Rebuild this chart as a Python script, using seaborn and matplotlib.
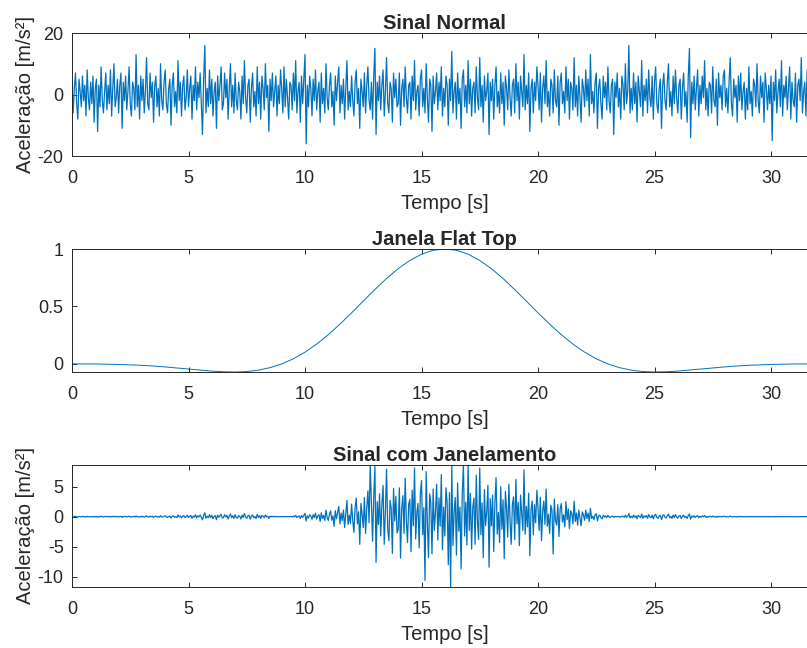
import numpy as np
import matplotlib
matplotlib.use("Agg")
import matplotlib.pyplot as plt
import seaborn as sns

# sinal bruto, 20 amostras por segundo (valores estimados da figura), uma linha por segundo
sinal_normal = [
    4, -6, 2, 7, -3, -8, 5, 1, -4, 6, -2, 3, -7, 8, -1, -5, 4, -3, 6, -9,
    2, 5, -12, 3, -4, 9, -2, -6, 1, 7, -5, 3, -3, 8, -7, 2, 10, -4, -1, 5,
    -6, 3, 7, -11, 4, -2, 6, -5, 1, 9, -3, -7, 4, 2, -5, 13, -4, 3, -8, 6,
    -2, 5, -6, 1, 12, -3, -5, 7, -1, 4, -9, 3, 6, -4, 2, -7, 10, -2, -5, 4,
    8, -3, -6, 2, 5, -10, 3, 7, -4, 1, -6, 11, -2, 4, -7, 3, 6, -5, -1, 8,
    -4, 2, 6, -8, 3, -2, 9, -5, 4, -1, 7, -3, -13, 5, 16, -6, 2, -4, 8, -3,
    5, -7, 1, 4, -11, 6, -2, 3, 9, -5, -3, 7, -1, 5, -8, 2, 10, -4, 3, -6,
    7, -2, -5, 4, 1, -8, 6, -3, 11, -1, -6, 3, 5, -9, 2, 7, -4, 1, -7, 9,
    -3, 4, -8, 6, 2, -5, 10, -1, 3, -12, 5, -2, 7, -4, 1, 6, -7, 3, -3, 8,
    2, -6, 9, -4, 5, -1, -8, 4, 3, -5, 7, -2, 11, -6, 1, 4, -9, 6, -3, 5,
    13, -16, 3, -4, 6, 2, -7, 5, -2, 8, -5, 1, 4, -9, 7, -3, 2, -6, 10, -1,
    -5, 3, 7, -4, 1, -10, 6, -2, 4, 9, -6, 3, -3, 5, -8, 2, 11, -5, 1, -4,
    6, -2, -7, 4, 8, -3, 2, -11, 5, 1, -4, 7, -6, 3, 9, -2, -5, 4, -8, 6,
    15, -13, 4, -2, 6, -5, 3, 8, -7, 1, 12, -3, -6, 4, 2, -9, 7, -1, 5, -4,
    -3, 7, -10, 2, 5, -4, 9, -1, -6, 3, 4, -8, 6, -2, 11, -5, 1, 3, -7, 5,
    8, -4, 2, -6, 10, -1, -9, 5, 3, -12, 6, -3, 1, 7, -5, 4, -2, 9, -7, 2,
    -4, 6, 3, -10, 5, -2, 14, -6, 1, 4, -8, 7, -3, 2, -11, 5, 8, -4, 3, -6,
    11, -3, 5, -7, 2, 4, -6, 9, -1, -5, 12, -4, 3, -9, 6, -2, 1, 7, -13, 4,
    -2, 5, -8, 3, 9, -4, 1, -6, 7, -3, 4, -10, 6, 2, -5, 8, -1, -7, 3, 5,
    -6, 10, -2, 4, -8, 6, 1, -4, 13, -5, 3, -3, 7, -12, 2, 5, -6, 4, -2, 9,
    3, -5, 7, -9, 2, 6, -3, 11, -4, 1, -7, 5, 3, -6, 8, -2, -4, 6, -10, 4,
    7, -3, 1, -6, 9, -2, 5, -8, 4, 2, -5, 12, -4, 3, -7, 6, -1, -9, 5, 2,
    -4, 8, -2, 5, -7, 13, -3, 1, -6, 4, 7, -11, 2, 5, -3, -8, 6, -1, 4, -5,
    9, -2, -6, 3, 5, -13, 4, -1, 7, -4, 2, -8, 6, 3, -5, 10, -3, 1, 16, -6,
    2, -5, 7, -3, 4, -9, 6, 1, -4, 11, -7, 3, -2, 5, -6, 8, -1, -4, 6, -8,
    4, 9, -3, -6, 2, 5, -11, 3, 7, -2, -5, 4, 10, -4, 1, -7, 6, -3, 8, -1,
    -6, 3, 5, -8, 2, 7, -4, 1, -9, 6, 15, -14, 4, -3, 6, -5, 2, 8, -7, 3,
    -3, 6, -1, 11, -5, 2, -7, 4, 3, -6, 9, -2, -4, 5, -10, 7, -1, 3, -5, 6,
    8, -4, 2, -6, 4, 12, -3, -7, 5, -1, 3, -9, 6, -2, 7, -5, 1, 4, -8, 2,
    -5, 9, -3, 1, -7, 5, 3, -4, 10, -2, -6, 6, -1, 4, -9, 7, 2, -5, 3, -3,
    6, -15, 4, -2, 8, -6, 1, 5, -4, 11, -7, 3, -1, 6, -5, 2, 9, -8, 4, -2,
    -4, 7, -9, 3, 5, -2, 12, -6, 1, 4, -7, 8, -3, 6, -11, 2, 5, -4, 10, -5,
]

# janela flat top, a cada 0.5 s
janela = [
    -0.000, -0.001, -0.001, -0.003, -0.005, -0.009, -0.013, -0.019, -0.027, -0.036, -0.045, -0.054, -0.063,
    -0.069, -0.071, -0.067, -0.055, -0.033, -0.001, 0.044, 0.102, 0.172, 0.254, 0.346, 0.444, 0.546, 0.647,
    0.743, 0.829, 0.900, 0.955, 0.989, 1.000, 0.989, 0.955, 0.900, 0.829, 0.743, 0.647, 0.546, 0.444,
    0.346, 0.254, 0.172, 0.102, 0.044, -0.001, -0.033, -0.055, -0.067, -0.071, -0.069, -0.063, -0.054,
    -0.045, -0.036, -0.027, -0.019, -0.013, -0.009, -0.005, -0.003, -0.001, -0.001, -0.000,
]

# sinal com janelamento, 20 amostras por segundo
sinal_janelado = [
    0.03, -0.05, 0.02, 0.06, -0.03, -0.07, 0.04, 0.01, -0.03, 0.05, -0.02, 0.02, -0.06, 0.07, -0.01, -0.04, 0.03, -0.03, 0.05, -0.08,
    0.02, 0.04, -0.1, 0.03, -0.03, 0.08, -0.02, -0.05, 0.01, 0.06, -0.04, 0.03, -0.03, 0.07, -0.06, 0.02, 0.09, -0.04, -0.01, 0.05,
    -0.06, 0.03, 0.07, -0.11, 0.04, -0.02, 0.06, -0.05, 0.01, 0.09, -0.03, -0.07, 0.04, 0.02, -0.05, 0.13, -0.04, 0.03, -0.08, 0.06,
    -0.03, 0.06, -0.08, 0.01, 0.16, -0.04, -0.07, 0.09, -0.01, 0.06, -0.13, 0.04, 0.09, -0.06, 0.03, -0.11, 0.16, -0.03, -0.08, 0.07,
    0.17, -0.06, -0.13, 0.04, 0.11, -0.24, 0.07, 0.17, -0.1, 0.02, -0.16, 0.3, -0.05, 0.11, -0.2, 0.09, 0.18, -0.15, -0.03, 0.25,
    -0.13, 0.07, 0.2, -0.28, 0.1, -0.07, 0.33, -0.19, 0.15, -0.04, 0.27, -0.12, -0.52, 0.2, 0.66, -0.25, 0.08, -0.17, 0.34, -0.13,
    0.22, -0.31, 0.04, 0.18, -0.5, 0.27, -0.09, 0.14, 0.41, -0.23, -0.14, 0.33, -0.05, 0.23, -0.37, 0.09, 0.47, -0.19, 0.14, -0.28,
    0.33, -0.09, -0.24, 0.19, 0.05, -0.38, 0.28, -0.14, 0.52, -0.05, -0.28, 0.14, 0.23, -0.42, 0.09, 0.32, -0.18, 0.04, -0.31, 0.39,
    -0.12, 0.16, -0.3, 0.21, 0.07, -0.16, 0.29, -0.03, 0.08, -0.28, 0.1, -0.03, 0.09, -0.04, 0.01, 0.04, -0.04, 0.01, -0.01, 0.02,
    0.01, -0.02, 0.03, -0.01, 0.01, -0.01, -0.02, 0.03, 0.04, -0.07, 0.11, -0.04, 0.22, -0.14, 0.03, 0.11, -0.28, 0.21, -0.11, 0.2,
    0.55, -0.72, 0.15, -0.2, 0.33, 0.12, -0.43, 0.33, -0.14, 0.58, -0.39, 0.08, 0.34, -0.78, 0.65, -0.29, 0.2, -0.63, 1.1, -0.12,
    -0.64, 0.4, 0.97, -0.58, 0.15, -1.6, 1.0, -0.35, 0.73, 1.7, -1.2, 0.62, -0.65, 1.1, -1.8, 0.47, 2.7, -1.3, 0.27, -1.1,
    2.1, -0.7, -2.6, 1.5, 3.1, -1.2, 0.8, -4.6, 2.2, 0.45, -1.8, 3.2, -2.8, 1.4, 4.3, -1.0, 8.6, 2.0, -4.1, 3.1,
    8.4, -7.6, 2.5, -1.3, 3.8, -3.2, 2.0, 5.2, -4.6, 0.7, 7.9, -2.0, -4.0, 2.7, 1.4, -6.1, 4.7, -0.7, 3.4, -2.7,
    -2.1, 4.8, -6.9, 1.4, 3.5, -2.8, 6.4, -0.7, -4.3, 2.1, 2.9, -5.8, 4.4, -1.5, 8.1, -3.7, 0.7, 2.2, -5.2, 3.7,
    6.0, -3.0, 1.5, -10.6, 7.5, -0.8, -6.8, 3.8, 2.3, -6.2, 4.6, -2.3, 0.8, 5.4, -3.9, 3.1, -1.6, 7.0, -5.5, 1.6,
    -3.2, 4.8, 2.4, -8.0, 4.0, -11.7, 8.4, -4.8, 0.8, 3.2, -6.4, 5.6, -2.4, 1.6, -8.7, 4.0, 8.6, -3.2, 2.4, -4.7,
    8.5, -2.3, 3.9, -5.4, 1.5, 3.1, -4.6, 6.9, -0.8, -3.8, 8.1, -3.0, 2.3, -6.8, 4.5, -1.5, 0.8, 5.2, -8.4, 3.0,
    -1.5, 3.6, -5.8, 2.2, 6.5, -2.9, 0.7, -4.3, 5.0, -2.1, 2.8, -7.0, 4.2, 1.4, -3.4, 5.4, -0.7, -4.6, 2.0, 3.3,
    -3.8, 6.2, -1.2, 2.4, -4.8, 3.6, 0.6, -2.3, 7.8, -2.9, 1.7, -1.7, 3.9, -6.5, 1.1, 2.6, -3.0, 2.0, -1.0, 4.4,
    1.4, -2.3, 3.2, -4.0, 0.9, 2.6, -1.3, 4.6, -1.6, 0.4, -2.8, 1.9, 1.1, -6.2, 2.9, -0.7, -1.4, 2.0, -3.3, 1.3,
    2.2, -0.9, 0.3, -1.7, 2.5, -0.5, 1.3, -2.0, 1.0, 0.5, -1.2, 2.6, -0.8, 0.6, -1.4, 1.1, -0.2, -1.5, 0.8, 0.3,
    -0.6, 1.1, -0.3, 0.6, -0.8, 1.4, -0.3, 0.1, -0.5, 0.3, 0.5, -0.7, 0.12, 0.27, -0.15, -0.36, 0.24, -0.04, 0.14, -0.15,
    0.25, -0.05, -0.12, 0.05, 0.06, -0.1, 0.02, -0.01, 0.03, -0.03, 0.03, -0.1, 0.1, 0.06, -0.12, 0.26, -0.09, 0.03, 0.52, -0.2,
    0.07, -0.18, 0.26, -0.11, 0.15, -0.34, 0.23, 0.04, -0.16, 0.43, -0.28, 0.12, -0.08, 0.2, -0.25, 0.34, -0.04, -0.17, 0.26, -0.35,
    0.18, 0.4, -0.13, -0.27, 0.09, 0.23, -0.5, 0.14, 0.32, -0.09, -0.23, 0.18, 0.45, -0.18, 0.04, -0.31, 0.27, -0.13, 0.35, -0.04,
    -0.25, 0.12, 0.2, -0.31, 0.08, 0.26, -0.14, 0.04, -0.3, 0.19, 0.46, -0.41, 0.11, -0.08, 0.16, -0.13, 0.05, 0.19, -0.16, 0.07,
    -0.06, 0.12, -0.02, 0.2, -0.09, 0.03, -0.12, 0.06, 0.04, -0.08, 0.12, -0.03, -0.05, 0.06, -0.11, 0.07, -0.01, 0.03, -0.05, 0.06,
    0.07, -0.03, 0.02, -0.05, 0.03, 0.09, -0.02, -0.05, 0.03, -0.01, 0.02, -0.06, 0.04, -0.01, 0.04, -0.03, 0.01, 0.02, -0.04, 0.01,
    -0.02, 0.04, -0.01, 0.01, -0.03, 0.02, 0.01, -0.02, 0.04, -0.01, -0.02, 0.02, -0.01, 0.01, -0.03, 0.02, 0.01, -0.02, 0.01, -0.01,
    0.02, -0.05, 0.01, -0.01, 0.02, -0.02, 0.01, 0.01, -0.01, 0.03, -0.02, 0.01, -0.01, 0.02, -0.01, 0.01, 0.02, -0.02, 0.01, -0.01,
    -0.01, 0.01, -0.02, 0.01, 0.01, -0.01, 0.02, -0.01, 0.01, 0.01, -0.01, 0.01, -0.01, 0.01, -0.02, 0.01, 0.01, -0.01, 0.02, -0.01,
]

t_sinal = np.arange(len(sinal_normal)) * 0.05
t_janela = np.arange(len(janela)) * 0.5

sns.set_theme(style="ticks")
plt.rcParams["font.family"] = ["Liberation Sans", "DejaVu Sans"]
cor_eixo = "#262626"
plt.rcParams.update({
    "axes.unicode_minus": False,
    "xtick.direction": "in", "ytick.direction": "in",
    "xtick.top": True, "ytick.right": True,
    "xtick.color": cor_eixo, "ytick.color": cor_eixo,
    "axes.edgecolor": cor_eixo, "axes.linewidth": 0.7,
    "xtick.major.width": 0.7, "ytick.major.width": 0.7,
    "xtick.major.size": 3.6, "ytick.major.size": 3.6,
    "xtick.labelsize": 13, "ytick.labelsize": 13,
})
azul = "#0072BD"
tam = 14.5

fig = plt.figure(figsize=(8.07, 6.48), dpi=100)
esq = 72 / 807
larg = 745.6 / 807
ax1 = fig.add_axes([esq, 1 - 156 / 648, larg, 123 / 648])
ax2 = fig.add_axes([esq, 1 - 372 / 648, larg, 123 / 648])
ax3 = fig.add_axes([esq, 1 - 587 / 648, larg, 122 / 648])

sns.lineplot(x=t_sinal, y=sinal_normal, ax=ax1, color=azul, linewidth=0.9, estimator=None, sort=False)
ax1.set_ylim(-20, 20)
ax1.set_yticks([-20, 0, 20])
ax1.set_title("Sinal Normal", fontsize=tam, fontweight="bold", pad=3)
ax1.set_ylabel("Aceleração [m/s²]", fontsize=tam, labelpad=2)

sns.lineplot(x=t_janela, y=janela, ax=ax2, color=azul, linewidth=0.7, estimator=None, sort=False)
ax2.set_ylim(min(janela), 1.0)
ax2.set_yticks([0, 0.5, 1])
ax2.set_yticklabels(["0", "0.5", "1"])
ax2.set_title("Janela Flat Top", fontsize=tam, fontweight="bold", pad=3)

sns.lineplot(x=t_sinal, y=sinal_janelado, ax=ax3, color=azul, linewidth=0.9, estimator=None, sort=False)
ax3.set_ylim(min(sinal_janelado), max(sinal_janelado))
ax3.set_yticks([-10, -5, 0, 5])
ax3.set_title("Sinal com Janelamento", fontsize=tam, fontweight="bold", pad=3)
ax3.set_ylabel("Aceleração [m/s²]", fontsize=tam, labelpad=2)

for ax in (ax1, ax2, ax3):
    ax.set_xlim(0, 32)
    ax.set_xticks([0, 5, 10, 15, 20, 25, 30])
    ax.set_xlabel("Tempo [s]", fontsize=tam, labelpad=5)
    ax.tick_params(axis="x", pad=10)
    ax.tick_params(axis="y", pad=6)

fig.savefig("out.png", dpi=100)
